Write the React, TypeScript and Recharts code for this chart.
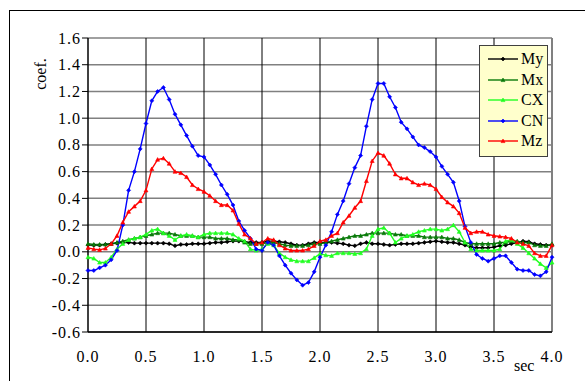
import React from 'react';
import { LineChart, Line, XAxis, YAxis, CartesianGrid, ReferenceLine } from 'recharts';

const TIME = [
  0, 0.05, 0.1, 0.15, 0.2, 0.25, 0.3, 0.35, 0.4, 0.45,
  0.5, 0.55, 0.6, 0.65, 0.7, 0.75, 0.8, 0.85, 0.9, 0.95,
  1, 1.05, 1.1, 1.15, 1.2, 1.25, 1.3, 1.35, 1.4, 1.45,
  1.5, 1.55, 1.6, 1.65, 1.7, 1.75, 1.8, 1.85, 1.9, 1.95,
  2, 2.05, 2.1, 2.15, 2.2, 2.25, 2.3, 2.35, 2.4, 2.45,
  2.5, 2.55, 2.6, 2.65, 2.7, 2.75, 2.8, 2.85, 2.9, 2.95,
  3, 3.05, 3.1, 3.15, 3.2, 3.25, 3.3, 3.35, 3.4, 3.45,
  3.5, 3.55, 3.6, 3.65, 3.7, 3.75, 3.8, 3.85, 3.9, 3.95,
  4,
];

const MY = [
  0.05, 0.05, 0.05, 0.055, 0.06, 0.065, 0.07, 0.07, 0.065, 0.065,
  0.065, 0.065, 0.065, 0.065, 0.06, 0.045, 0.055, 0.055, 0.06, 0.06,
  0.06, 0.065, 0.07, 0.07, 0.075, 0.08, 0.08, 0.075, 0.07, 0.07,
  0.07, 0.08, 0.08, 0.075, 0.07, 0.06, 0.05, 0.05, 0.06, 0.07,
  0.07, 0.07, 0.07, 0.065, 0.06, 0.05, 0.045, 0.06, 0.07, 0.06,
  0.06, 0.055, 0.05, 0.055, 0.06, 0.06, 0.06, 0.065, 0.07, 0.075,
  0.08, 0.075, 0.07, 0.07, 0.06, 0.05, 0.035, 0.03, 0.03, 0.03,
  0.035, 0.045, 0.05, 0.06, 0.07, 0.08, 0.075, 0.06, 0.055, 0.05,
  0.05,
];

const MX = [
  0.06, 0.055, 0.055, 0.055, 0.06, 0.07, 0.08, 0.09, 0.1, 0.11,
  0.12, 0.13, 0.14, 0.14, 0.14, 0.13, 0.12, 0.12, 0.12, 0.11,
  0.11, 0.11, 0.1, 0.1, 0.1, 0.09, 0.09, 0.07, 0.06, 0.06,
  0.06, 0.07, 0.07, 0.06, 0.05, 0.045, 0.045, 0.045, 0.05, 0.06,
  0.06, 0.07, 0.08, 0.09, 0.1, 0.11, 0.12, 0.12, 0.13, 0.14,
  0.14, 0.14, 0.14, 0.13, 0.13, 0.12, 0.12, 0.12, 0.11, 0.11,
  0.11, 0.11, 0.1, 0.1, 0.09, 0.07, 0.06, 0.06, 0.06, 0.06,
  0.06, 0.07, 0.07, 0.08, 0.08, 0.07, 0.07, 0.05, 0.045, 0.045,
  0.06,
];

const CX = [
  -0.04, -0.05, -0.08, -0.08, -0.04, 0.02, 0.06, 0.09, 0.1, 0.11,
  0.13, 0.16, 0.17, 0.14, 0.12, 0.09, 0.12, 0.13, 0.12, 0.11,
  0.13, 0.14, 0.14, 0.14, 0.14, 0.13, 0.1, 0.08, 0.02, 0.01,
  0.02, 0.06, 0.05, -0.01, -0.04, -0.06, -0.07, -0.07, -0.07, -0.045,
  -0.015, -0.025, -0.03, -0.01, -0.01, -0.01, -0.015, -0.01, 0.02, 0.12,
  0.17, 0.18, 0.14, 0.07, 0.1, 0.12, 0.13, 0.15, 0.16, 0.17,
  0.17, 0.16, 0.17, 0.2, 0.15, 0.07, 0.02, 0.01, 0.01, 0.01,
  0.01, 0.02, 0.08, 0.09, 0.06, 0.03, -0.01, -0.05, -0.09, -0.12,
  -0.08,
];

const CN = [
  -0.14, -0.14, -0.12, -0.1, -0.06, 0.01, 0.2, 0.46, 0.6, 0.77,
  0.96, 1.13, 1.2, 1.23, 1.14, 1.03, 0.95, 0.87, 0.79, 0.72,
  0.71, 0.65, 0.58, 0.5, 0.43, 0.35, 0.23, 0.16, 0.1, 0.02,
  0.01, 0.07, 0.05, -0.03, -0.1, -0.16, -0.21, -0.25, -0.23, -0.15,
  -0.04, 0.05, 0.15, 0.28, 0.38, 0.51, 0.63, 0.72, 0.94, 1.14,
  1.26, 1.26, 1.16, 1.08, 0.97, 0.92, 0.86, 0.8, 0.78, 0.75,
  0.71, 0.64, 0.58, 0.52, 0.38, 0.19, 0.07, -0.02, -0.05, -0.07,
  -0.05, -0.03, -0.03, -0.08, -0.13, -0.14, -0.14, -0.17, -0.18, -0.15,
  -0.04,
];

const MZ = [
  0.03, 0.02, 0.015, 0.025, 0.06, 0.12, 0.22, 0.3, 0.34, 0.38,
  0.46, 0.62, 0.69, 0.7, 0.66, 0.6, 0.59, 0.56, 0.5, 0.47,
  0.45, 0.42, 0.38, 0.35, 0.35, 0.31, 0.21, 0.13, 0.1, 0.06,
  0.07, 0.1, 0.09, 0.05, 0.025, 0.01, 0.01, 0.01, 0.02, 0.045,
  0.08, 0.09, 0.12, 0.14, 0.22, 0.27, 0.33, 0.38, 0.53, 0.68,
  0.74, 0.72, 0.66, 0.58, 0.55, 0.55, 0.52, 0.5, 0.51, 0.5,
  0.47, 0.41, 0.37, 0.34, 0.29, 0.18, 0.14, 0.15, 0.15, 0.13,
  0.12, 0.115, 0.11, 0.1, 0.07, 0.06, 0.045, -0.01, -0.03, -0.03,
  0.05,
];

const X_TICKS = [0, 0.5, 1, 1.5, 2, 2.5, 3, 3.5, 4];
const Y_TICKS = [-0.6, -0.4, -0.2, 0, 0.2, 0.4, 0.6, 0.8, 1.0, 1.2, 1.4, 1.6];

const SERIES = [
  { key: 'My', color: '#000000', shape: 'diamond' },
  { key: 'Mx', color: '#0a7a0a', shape: 'triangle' },
  { key: 'CX', color: '#22ff22', shape: 'triangle' },
  { key: 'CN', color: '#0000ff', shape: 'diamond' },
  { key: 'Mz', color: '#ff0000', shape: 'triangle' },
];

const data = TIME.map((t, i) => ({
  t,
  My: MY[i],
  Mx: MX[i],
  CX: CX[i],
  CN: CN[i],
  Mz: MZ[i],
}));

const FONT = "Liberation Serif";

function markerPath(shape: string, cx: number, cy: number, s: number) {
  if (shape === 'triangle') {
    return `M${cx},${cy - s} L${cx + s},${cy + s * 0.8} L${cx - s},${cy + s * 0.8} Z`;
  }
  return `M${cx},${cy - s} L${cx + s},${cy} L${cx},${cy + s} L${cx - s},${cy} Z`;
}

const makeDot = (shape: string, color: string) => (props: any) => {
  const { cx, cy, index } = props;
  if (cx == null || cy == null) return <g key={`d${index}`} />;
  return <path key={`d${index}`} d={markerPath(shape, cx, cy, 2)} fill={color} stroke={color} strokeWidth={0.6} />;
};

const XTick = (props: any) => {
  const { x, y, payload } = props;
  return (
    <text x={x} y={y + 11} textAnchor="middle" fill="#000" style={{ fontFamily: FONT, fontSize: 16, letterSpacing: 1 }}>
      {Number(payload.value).toFixed(1)}
    </text>
  );
};

const YTick = (props: any) => {
  const { x, y, payload } = props;
  return (
    <text x={x + 1} y={y + 5.5} textAnchor="end" fill="#000" style={{ fontFamily: FONT, fontSize: 16, letterSpacing: 1 }}>
      {Number(payload.value).toFixed(1)}
    </text>
  );
};

export default function App() {
  return (
    <div style={{ position: 'absolute', left: 0, top: 0, width: 585, height: 381, overflow: 'hidden', background: '#fff', fontFamily: FONT }}>
      <div style={{ position: 'absolute', left: 9, top: 10, width: 620, height: 420, border: '1px solid #000', boxSizing: 'border-box' }} />
      <LineChart
        width={585}
        height={381}
        data={data}
        margin={{ top: 38, right: 33, bottom: 19, left: 48 }}
        style={{ position: 'absolute', left: 0, top: 0 }}
      >
        <CartesianGrid horizontal={true} vertical={false} stroke="#808080" strokeWidth={1.5} />
        {X_TICKS.slice(1, -1).map((x) => (
          <ReferenceLine key={`v${x}`} x={x} stroke="#000" strokeWidth={1} />
        ))}
        <ReferenceLine x={4} stroke="#808080" strokeWidth={2} />
        <XAxis
          dataKey="t"
          type="number"
          domain={[0, 4]}
          ticks={X_TICKS}
          tickLine={false}
          tickSize={0}
          tickMargin={19}
          height={30}
          axisLine={{ stroke: '#000', strokeWidth: 1.5 }}
          tick={<XTick />}
          interval={0}
        />
        <YAxis
          type="number"
          domain={[-0.6, 1.6]}
          ticks={Y_TICKS}
          width={40}
          tickSize={6}
          tickMargin={2}
          tickLine={{ stroke: '#000' }}
          axisLine={{ stroke: '#000', strokeWidth: 1.5 }}
          tick={<YTick />}
          interval={0}
          allowDataOverflow={true}
        />
        {SERIES.map((s) => (
          <Line
            key={s.key}
            type="linear"
            dataKey={s.key}
            stroke={s.color}
            strokeWidth={1.4}
            dot={makeDot(s.shape, s.color)}
            activeDot={false}
            isAnimationActive={false}
          />
        ))}
      </LineChart>
      <div
        style={{
          position: 'absolute',
          left: 24,
          top: 65,
          width: 34,
          height: 18,
          transform: 'rotate(-90deg)',
          transformOrigin: 'center',
          fontFamily: FONT,
          fontSize: 16,
          lineHeight: '18px',
          textAlign: 'center',
          color: '#000',
        }}
      >
        coef.
      </div>
      <div style={{ position: 'absolute', left: 514, top: 357, fontFamily: FONT, fontSize: 16, lineHeight: '18px', color: '#000' }}>
        sec
      </div>
      <div
        style={{
          position: 'absolute',
          left: 479,
          top: 45,
          width: 69,
          height: 112,
          background: '#ffffcc',
          border: '1px solid #404040',
          boxSizing: 'border-box',
        }}
      >
        {SERIES.map((s, i) => (
          <div key={s.key} style={{ position: 'absolute', left: 0, top: 3 + i * 20.6, height: 20, width: 67 }}>
            <svg width={34} height={20} style={{ position: 'absolute', left: 6, top: 0 }}>
              <line x1={2} y1={10} x2={32} y2={10} stroke={s.color} strokeWidth={1.4} />
              <path d={markerPath(s.shape, 17, 10, 2)} fill={s.color} stroke={s.color} strokeWidth={0.6} />
            </svg>
            <div style={{ position: 'absolute', left: 41, top: 1, fontFamily: FONT, fontSize: 16, lineHeight: '18px', color: '#000' }}>
              {s.key}
            </div>
          </div>
        ))}
      </div>
    </div>
  );
}
